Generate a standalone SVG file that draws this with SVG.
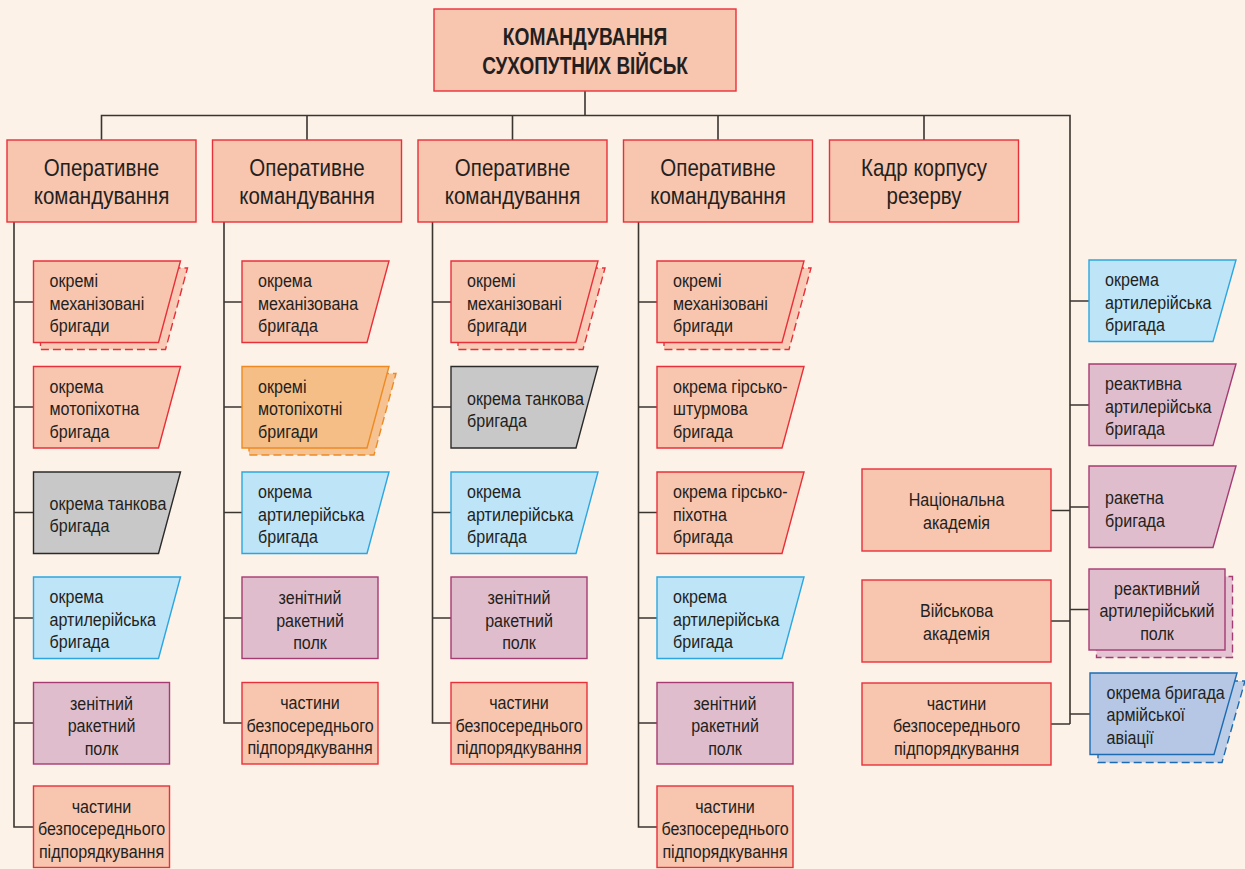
<svg xmlns="http://www.w3.org/2000/svg" width="1245" height="869" viewBox="0 0 1245 869">
<defs>
<style>
.bg{fill:#fdf2e8}
text{font-family:"Liberation Sans",Arial,sans-serif;fill:#231f20}
.t{font-size:18.5px}
.c{text-anchor:middle}
.op{font-size:24px;text-anchor:middle}
.top{font-size:24px;font-weight:bold;text-anchor:middle}
.sal{fill:#f8c5af;stroke:#e8303a;stroke-width:1.4}
.salS{fill:#f9cbb7;stroke:#e8303a;stroke-width:1.4;stroke-dasharray:8 4}
.blu{fill:#bee4f8;stroke:#2ba7e0;stroke-width:1.4}
.mau{fill:#e0bdcc;stroke:#a63b73;stroke-width:1.4}
.mauS{fill:#e4c4d2;stroke:#a63b73;stroke-width:1.4;stroke-dasharray:8 4}
.gry{fill:#c8c8c8;stroke:#2b2b2b;stroke-width:1.4}
.org{fill:#f5be87;stroke:#ee8a22;stroke-width:1.4}
.orgS{fill:#f6c291;stroke:#ee8a22;stroke-width:1.4;stroke-dasharray:8 4}
.av{fill:#b5c7e5;stroke:#1d6cb3;stroke-width:1.4}
.avS{fill:#bccde8;stroke:#1d6cb3;stroke-width:1.4;stroke-dasharray:8 4}
.ln{fill:none;stroke:#3b3530;stroke-width:1.6}
</style>
</defs>
<rect class="bg" x="0" y="0" width="1245" height="869"/>

<g id="connectors">
<path class="ln" d="M585,91V115.5M101.5,140V115.5H1070V724M307,115.5V140M512.5,115.5V140M718,115.5V140M924,115.5V140"/>
<path class="ln" d="M14,222V827H33.5M14,302H33.5M14,407H33.5M14,512.5H33.5M14,618H33.5M14,723H33.5"/>
<path class="ln" d="M224,222V723H242M224,302H242M224,407H242M224,512.5H242M224,618H242"/>
<path class="ln" d="M432.5,222V723H451M432.5,302H451M432.5,407H451M432.5,512.5H451M432.5,618H451"/>
<path class="ln" d="M638.5,222V827H657M638.5,302H657M638.5,407H657M638.5,512.5H657M638.5,618H657M638.5,723H657"/>
<path class="ln" d="M1070,301H1089M1070,405H1089M1070,507H1089M1070,609.5H1089M1070,714H1090M1051,510.5H1070M1051,621H1070M1051,724H1070"/>
</g>

<g id="n-top">
<rect class="sal" x="434" y="9" width="302" height="82"/>
<text class="top" transform="translate(585,45) scale(.8,1)">КОМАНДУВАННЯ</text>
<text class="top" transform="translate(585,73.5) scale(.79,1)">СУХОПУТНИХ ВІЙСЬК</text>
</g>

<g id="n-op1"><rect class="sal" x="7" y="140" width="189" height="82"/><text class="op" transform="translate(101.5,175.5) scale(.855,1)">Оперативне</text><text class="op" transform="translate(101.5,204) scale(.855,1)">командування</text></g>
<g id="n-op2"><rect class="sal" x="212.5" y="140" width="189" height="82"/><text class="op" transform="translate(307,175.5) scale(.855,1)">Оперативне</text><text class="op" transform="translate(307,204) scale(.855,1)">командування</text></g>
<g id="n-op3"><rect class="sal" x="418" y="140" width="189" height="82"/><text class="op" transform="translate(512.5,175.5) scale(.855,1)">Оперативне</text><text class="op" transform="translate(512.5,204) scale(.855,1)">командування</text></g>
<g id="n-op4"><rect class="sal" x="623.5" y="140" width="189" height="82"/><text class="op" transform="translate(718,175.5) scale(.855,1)">Оперативне</text><text class="op" transform="translate(718,204) scale(.855,1)">командування</text></g>
<g id="n-kadr"><rect class="sal" x="829.5" y="140" width="189" height="82"/><text class="op" transform="translate(924,175.5) scale(.855,1)">Кадр корпусу</text><text class="op" transform="translate(924,204) scale(.855,1)">резерву</text></g>

<!-- Column 1 -->
<g id="c1-1"><path class="salS" d="M40.5,268h147l-22,81.5h-125z"/><path class="sal" d="M33.5,261h147l-22,81.5h-125z"/><text class="t" transform="translate(49.5,287) scale(.87,1)">окремі</text><text class="t" transform="translate(49.5,309.5) scale(.87,1)">механізовані</text><text class="t" transform="translate(49.5,332) scale(.87,1)">бригади</text></g>
<g id="c1-2"><path class="sal" d="M33.5,366.5h147l-22,81.5h-125z"/><text class="t" transform="translate(49.5,392.5) scale(.87,1)">окрема</text><text class="t" transform="translate(49.5,415) scale(.87,1)">мотопіхотна</text><text class="t" transform="translate(49.5,437.5) scale(.87,1)">бригада</text></g>
<g id="c1-3"><path class="gry" d="M33.5,472h147l-22,81.5h-125z"/><text class="t" transform="translate(49.5,510) scale(.87,1)">окрема танкова</text><text class="t" transform="translate(49.5,532) scale(.87,1)">бригада</text></g>
<g id="c1-4"><path class="blu" d="M33.5,577h147l-22,81.5h-125z"/><text class="t" transform="translate(49.5,603) scale(.87,1)">окрема</text><text class="t" transform="translate(49.5,625.5) scale(.87,1)">артилерійська</text><text class="t" transform="translate(49.5,648) scale(.87,1)">бригада</text></g>
<g id="c1-5"><rect class="mau" x="33.5" y="682.5" width="136" height="81.5"/><text class="t c" transform="translate(101.5,709.5) scale(.87,1)">зенітний</text><text class="t c" transform="translate(101.5,732) scale(.87,1)">ракетний</text><text class="t c" transform="translate(101.5,754.5) scale(.87,1)">полк</text></g>
<g id="c1-6"><rect class="sal" x="33.5" y="786" width="136" height="81.5"/><text class="t c" transform="translate(101.5,812.5) scale(.87,1)">частини</text><text class="t c" transform="translate(101.5,835) scale(.87,1)">безпосереднього</text><text class="t c" transform="translate(101.5,857.5) scale(.87,1)">підпорядкування</text></g>

<!-- Column 2 -->
<g id="c2-1"><path class="sal" d="M242,261h147l-22,81.5h-125z"/><text class="t" transform="translate(258,287) scale(.87,1)">окрема</text><text class="t" transform="translate(258,309.5) scale(.87,1)">механізована</text><text class="t" transform="translate(258,332) scale(.87,1)">бригада</text></g>
<g id="c2-2"><path class="orgS" d="M249,373.5h147l-22,81.5h-125z"/><path class="org" d="M242,366.5h147l-22,81.5h-125z"/><text class="t" transform="translate(258,392.5) scale(.87,1)">окремі</text><text class="t" transform="translate(258,415) scale(.87,1)">мотопіхотні</text><text class="t" transform="translate(258,437.5) scale(.87,1)">бригади</text></g>
<g id="c2-3"><path class="blu" d="M242,472h147l-22,81.5h-125z"/><text class="t" transform="translate(258,498) scale(.87,1)">окрема</text><text class="t" transform="translate(258,520.5) scale(.87,1)">артилерійська</text><text class="t" transform="translate(258,543) scale(.87,1)">бригада</text></g>
<g id="c2-4"><rect class="mau" x="242" y="577" width="136" height="81.5"/><text class="t c" transform="translate(310,604) scale(.87,1)">зенітний</text><text class="t c" transform="translate(310,626.5) scale(.87,1)">ракетний</text><text class="t c" transform="translate(310,649) scale(.87,1)">полк</text></g>
<g id="c2-5"><rect class="sal" x="242" y="682.5" width="136" height="81.5"/><text class="t c" transform="translate(310,709) scale(.87,1)">частини</text><text class="t c" transform="translate(310,731.5) scale(.87,1)">безпосереднього</text><text class="t c" transform="translate(310,754) scale(.87,1)">підпорядкування</text></g>

<!-- Column 3 -->
<g id="c3-1"><path class="salS" d="M458,268h147l-22,81.5h-125z"/><path class="sal" d="M451,261h147l-22,81.5h-125z"/><text class="t" transform="translate(467,287) scale(.87,1)">окремі</text><text class="t" transform="translate(467,309.5) scale(.87,1)">механізовані</text><text class="t" transform="translate(467,332) scale(.87,1)">бригади</text></g>
<g id="c3-2"><path class="gry" d="M451,366.5h147l-22,81.5h-125z"/><text class="t" transform="translate(467,405) scale(.87,1)">окрема танкова</text><text class="t" transform="translate(467,427) scale(.87,1)">бригада</text></g>
<g id="c3-3"><path class="blu" d="M451,472h147l-22,81.5h-125z"/><text class="t" transform="translate(467,498) scale(.87,1)">окрема</text><text class="t" transform="translate(467,520.5) scale(.87,1)">артилерійська</text><text class="t" transform="translate(467,543) scale(.87,1)">бригада</text></g>
<g id="c3-4"><rect class="mau" x="451" y="577" width="136" height="81.5"/><text class="t c" transform="translate(519,604) scale(.87,1)">зенітний</text><text class="t c" transform="translate(519,626.5) scale(.87,1)">ракетний</text><text class="t c" transform="translate(519,649) scale(.87,1)">полк</text></g>
<g id="c3-5"><rect class="sal" x="451" y="682.5" width="136" height="81.5"/><text class="t c" transform="translate(519,709) scale(.87,1)">частини</text><text class="t c" transform="translate(519,731.5) scale(.87,1)">безпосереднього</text><text class="t c" transform="translate(519,754) scale(.87,1)">підпорядкування</text></g>

<!-- Column 4 -->
<g id="c4-1"><path class="salS" d="M664,268h147l-22,81.5h-125z"/><path class="sal" d="M657,261h147l-22,81.5h-125z"/><text class="t" transform="translate(673,287) scale(.87,1)">окремі</text><text class="t" transform="translate(673,309.5) scale(.87,1)">механізовані</text><text class="t" transform="translate(673,332) scale(.87,1)">бригади</text></g>
<g id="c4-2"><path class="sal" d="M657,366.5h147l-22,81.5h-125z"/><text class="t" transform="translate(673,392.5) scale(.87,1)">окрема гірсько-</text><text class="t" transform="translate(673,415) scale(.87,1)">штурмова</text><text class="t" transform="translate(673,437.5) scale(.87,1)">бригада</text></g>
<g id="c4-3"><path class="sal" d="M657,472h147l-22,81.5h-125z"/><text class="t" transform="translate(673,498) scale(.87,1)">окрема гірсько-</text><text class="t" transform="translate(673,520.5) scale(.87,1)">піхотна</text><text class="t" transform="translate(673,543) scale(.87,1)">бригада</text></g>
<g id="c4-4"><path class="blu" d="M657,577h147l-22,81.5h-125z"/><text class="t" transform="translate(673,603) scale(.87,1)">окрема</text><text class="t" transform="translate(673,625.5) scale(.87,1)">артилерійська</text><text class="t" transform="translate(673,648) scale(.87,1)">бригада</text></g>
<g id="c4-5"><rect class="mau" x="657" y="682.5" width="136" height="81.5"/><text class="t c" transform="translate(725,709.5) scale(.87,1)">зенітний</text><text class="t c" transform="translate(725,732) scale(.87,1)">ракетний</text><text class="t c" transform="translate(725,754.5) scale(.87,1)">полк</text></g>
<g id="c4-6"><rect class="sal" x="657" y="786" width="136" height="81.5"/><text class="t c" transform="translate(725,812.5) scale(.87,1)">частини</text><text class="t c" transform="translate(725,835) scale(.87,1)">безпосереднього</text><text class="t c" transform="translate(725,857.5) scale(.87,1)">підпорядкування</text></g>

<!-- Reserve academies -->
<g id="n-nat"><rect class="sal" x="862" y="469" width="189" height="82"/><text class="t c" transform="translate(956.5,506) scale(.87,1)">Національна</text><text class="t c" transform="translate(956.5,528.5) scale(.87,1)">академія</text></g>
<g id="n-mil"><rect class="sal" x="862" y="580" width="189" height="82"/><text class="t c" transform="translate(956.5,617) scale(.87,1)">Військова</text><text class="t c" transform="translate(956.5,639.5) scale(.87,1)">академія</text></g>
<g id="n-ch5"><rect class="sal" x="862" y="683" width="189" height="82"/><text class="t c" transform="translate(956.5,709.5) scale(.87,1)">частини</text><text class="t c" transform="translate(956.5,732) scale(.87,1)">безпосереднього</text><text class="t c" transform="translate(956.5,754.5) scale(.87,1)">підпорядкування</text></g>

<!-- Right column -->
<g id="r-1"><path class="blu" d="M1089,260h147l-23,81.5h-124z"/><text class="t" transform="translate(1105,286) scale(.87,1)">окрема</text><text class="t" transform="translate(1105,308.5) scale(.87,1)">артилерійська</text><text class="t" transform="translate(1105,331) scale(.87,1)">бригада</text></g>
<g id="r-2"><path class="mau" d="M1089,364h147l-23,81.5h-124z"/><text class="t" transform="translate(1105,390) scale(.87,1)">реактивна</text><text class="t" transform="translate(1105,412.5) scale(.87,1)">артилерійська</text><text class="t" transform="translate(1105,435) scale(.87,1)">бригада</text></g>
<g id="r-3"><path class="mau" d="M1089,466h147l-23,81.5h-124z"/><text class="t" transform="translate(1105,504) scale(.87,1)">ракетна</text><text class="t" transform="translate(1105,526.5) scale(.87,1)">бригада</text></g>
<g id="r-4"><rect class="mauS" x="1096.5" y="576.5" width="136" height="81"/><rect class="mau" x="1089" y="569" width="136" height="81"/><text class="t c" transform="translate(1157,594.5) scale(.87,1)">реактивний</text><text class="t c" transform="translate(1157,617) scale(.87,1)">артилерійський</text><text class="t c" transform="translate(1157,639.5) scale(.87,1)">полк</text></g>
<g id="r-5"><path class="avS" d="M1098,681h147l-23,81.5h-124z"/><path class="av" d="M1090,673h147l-23,81.5h-124z"/><text class="t" transform="translate(1106.5,698.5) scale(.87,1)">окрема бригада</text><text class="t" transform="translate(1106.5,721) scale(.87,1)">армійської</text><text class="t" transform="translate(1106.5,743.5) scale(.87,1)">авіації</text></g>
</svg>
